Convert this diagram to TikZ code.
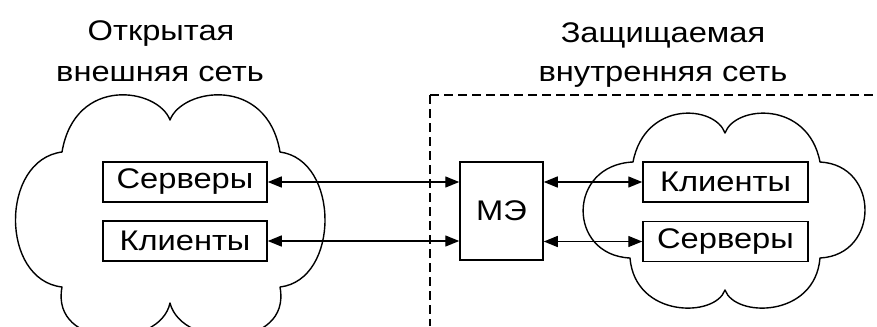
\documentclass[tikz,border=0pt]{standalone}
\usepackage{fontspec}
\setmainfont{Liberation Sans}[FakeStretch=1.15]
\usetikzlibrary{arrows.meta}
\tikzset{
  box/.style={draw, line width=1.5bp, inner sep=0pt, font=\fontsize{28.5}{31}\selectfont},
  cloud line/.style={draw, line width=1.4bp, line join=round},
  arr/.style={line width=1.4bp, {Triangle[length=14bp,width=11bp]}-{Triangle[length=14bp,width=11bp]}},
  border/.style={line width=1.7bp, dash pattern=on 9bp off 5bp},
  title/.style={anchor=base, inner sep=0pt, font=\fontsize{28.5}{31}\selectfont},
}
\begin{document}
\begin{tikzpicture}[x=1bp, y=-1bp]
\useasboundingbox (0,0) rectangle (877,326);
\clip (0,0) rectangle (877,326);
% titles
\node[title] (t1) at (161,40) {Открытая};
\node[title] (t2) at (160,81) {внешняя сеть};
\node[title] (t3) at (663,42) {Защищаемая};
\node[title] (t4) at (663,81) {внутренняя сеть};
% left cloud
\path[cloud line] (170,120) .. controls (158,88) and (75,75) .. (62,152)
  .. controls (0,160) and (0,280) .. (62,287)
  .. controls (50,350) and (160,350) .. (170,303)
  .. controls (182,350) and (292,350) .. (280,287)
  .. controls (340,280) and (340,160) .. (280,152)
  .. controls (267,75) and (182,88) .. cycle;
% right cloud
\path[cloud line] (725,133) .. controls (715,105) and (645,100) .. (633,162)
  .. controls (567,165) and (567,255) .. (630,258)
  .. controls (635,318) and (715,318) .. (725,290)
  .. controls (735,318) and (815,318) .. (820,258)
  .. controls (880,255) and (880,165) .. (820,162)
  .. controls (808,100) and (735,105) .. cycle;
% dashed border
\coordinate (dc) at (430,95);
\coordinate (dr) at (877,95);
\coordinate (db) at (430,326);
\draw[border] (dc) -- (dr);
\draw[border] (dc) -- (db);
% boxes
\node[box, minimum width=164bp, minimum height=40bp] (ls) at (185,182) {Серверы};
\node[box, minimum width=164bp, minimum height=40bp] (lk) at (185,241) {Клиенты};
\node[box, minimum width=83bp, minimum height=98bp] (me) at (501.5,211) {МЭ};
\node[box, minimum width=165bp, minimum height=40bp] (rk) at (725.5,182) {Клиенты};
\node[box, minimum width=165bp, minimum height=40bp] (rs) at (725.5,241.5) {Серверы};
% arrows
\draw[arr] (ls.east) -- (me.west |- ls.east);
\draw[arr] (lk.east) -- (me.west |- lk.east);
\draw[arr] (me.east |- rk.west) -- (rk.west);
\draw[arr] (me.east |- rs.west) -- (rs.west);
\end{tikzpicture}
\end{document}
